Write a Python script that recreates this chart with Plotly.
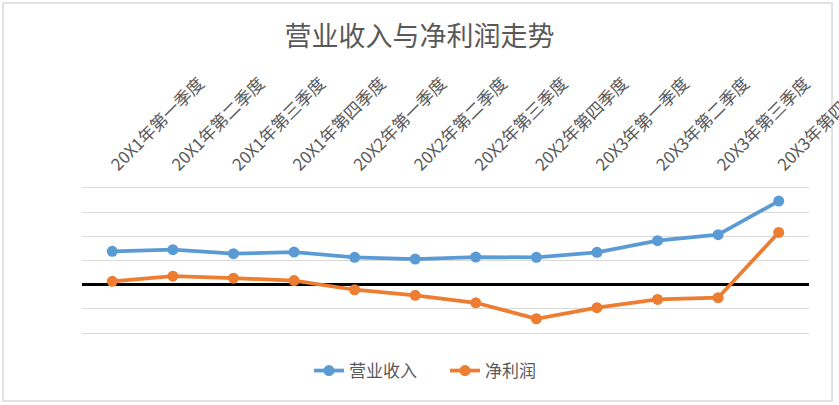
import plotly.graph_objects as go

categories = ["20X1年第一季度", "20X1年第二季度", "20X1年第三季度", "20X1年第四季度",
              "20X2年第一季度", "20X2年第二季度", "20X2年第三季度", "20X2年第四季度",
              "20X3年第一季度", "20X3年第二季度", "20X3年第三季度", "20X3年第四季度"]
revenue = [1.38, 1.45, 1.28, 1.35, 1.13, 1.06, 1.14, 1.13, 1.34, 1.82, 2.07, 3.46]
net_profit = [0.14, 0.35, 0.27, 0.17, -0.21, -0.44, -0.75, -1.41, -0.95, -0.61, -0.54, 2.16]

W, H = 839, 405
ml, mr, mt, mb = 82, 30, 188, 68
pw, ph = W - ml - mr, H - mt - mb
unit_px = 145 / 6.0
y_top = 4.0
y_bot = y_top - ph / unit_px

font_family = "Noto Sans CJK SC, Noto Sans, sans-serif"
gray = "#595959"

fig = go.Figure()
fig.add_trace(go.Scatter(x=categories, y=revenue, name="营业收入", mode="lines+markers",
                         line=dict(color="#5B9BD5", width=3.75), marker=dict(size=11, color="#5B9BD5")))
fig.add_trace(go.Scatter(x=categories, y=net_profit, name="净利润", mode="lines+markers",
                         line=dict(color="#ED7D31", width=3.75), marker=dict(size=11, color="#ED7D31")))

fig.update_layout(
    width=W, height=H,
    margin=dict(l=ml, r=mr, t=mt, b=mb, autoexpand=False),
    paper_bgcolor="white", plot_bgcolor="white",
    font=dict(family=font_family, color=gray),
    title=dict(text="营业收入与净利润走势", x=0.5, xanchor="center", y=1 - 37 / H, yanchor="middle",
               font=dict(size=27, color=gray, family=font_family)),
    showlegend=True,
    legend=dict(orientation="h", x=(309 - ml) / pw, xanchor="left", y=-(371 - (H - mb)) / ph,
                yanchor="middle", font=dict(size=17, color=gray), tracegroupgap=0,
                entrywidth=91, entrywidthmode="pixels"),
    xaxis=dict(side="top", tickangle=-45, tickfont=dict(size=17, color=gray), automargin=False,
               showgrid=False, showline=True, linecolor="#D9D9D9", linewidth=1, ticks="",
               ticklabelstandoff=6, range=[-0.5, len(categories) - 0.5]),
    yaxis=dict(range=[y_bot, y_top], dtick=1, tick0=0, showticklabels=False, showgrid=True,
               gridcolor="#D9D9D9", gridwidth=1, zeroline=True, zerolinecolor="black",
               zerolinewidth=2.5, ticks="", automargin=False),
    shapes=[dict(type="rect", xref="paper", yref="paper",
                 x0=-(ml - 3) / pw, x1=1 + (mr - 7) / pw, y0=-(mb - 4) / ph, y1=1 + (mt - 3) / ph,
                 line=dict(color="#D9D9D9", width=1.5), fillcolor="rgba(0,0,0,0)", layer="below")],
)

fig.write_html("out.html", config={"displayModeBar": False},
               post_script="document.body.style.margin='0';document.body.style.overflow='hidden';")
